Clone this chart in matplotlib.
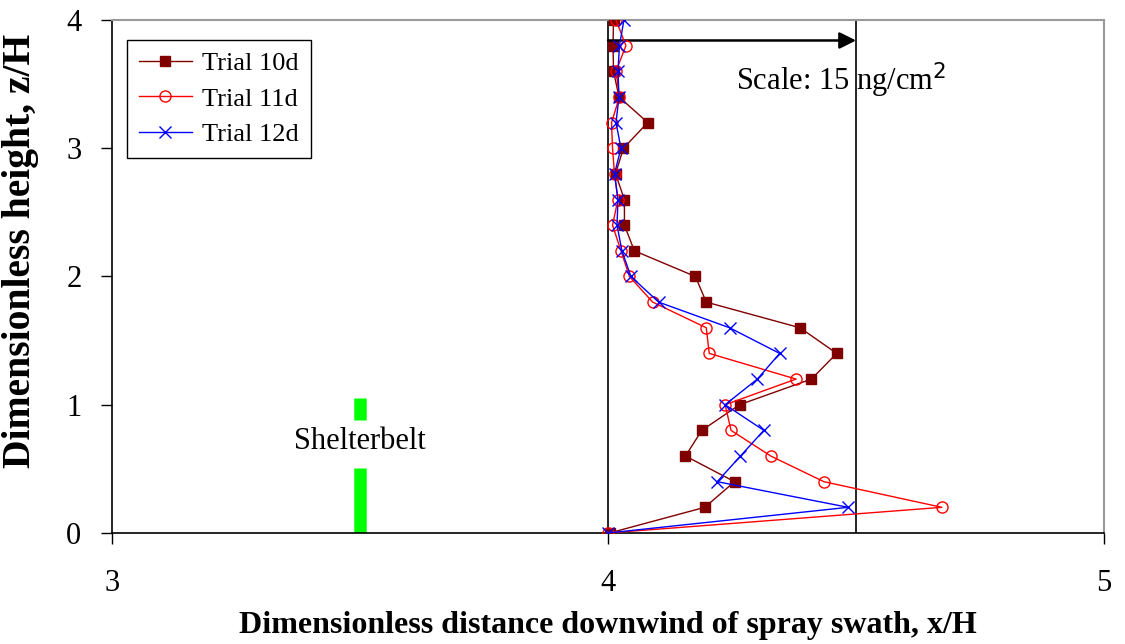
import matplotlib.pyplot as plt

plt.rcParams['font.family'] = ['Liberation Serif', 'DejaVu Serif']

# data
heights = [0.0, 0.2, 0.4, 0.6, 0.8, 1.0, 1.2, 1.4, 1.6, 1.8, 2.0,
           2.2, 2.4, 2.6, 2.8, 3.0, 3.2, 3.4, 3.6, 3.8, 4.0]
trial_10d = [4.003, 4.195, 4.255, 4.156, 4.189, 4.265, 4.41, 4.461, 4.387, 4.198, 4.176,
             4.053, 4.033, 4.033, 4.015, 4.031, 4.08, 4.022, 4.011, 4.010, 4.011]
trial_11d = [4.0, 4.673, 4.435, 4.328, 4.248, 4.236, 4.379, 4.204, 4.198, 4.09, 4.043,
             4.026, 4.009, 4.02, 4.013, 4.009, 4.007, 4.023, 4.016, 4.036, 4.016]
trial_12d = [4.0, 4.484, 4.22, 4.267, 4.314, 4.236, 4.301, 4.346, 4.245, 4.102, 4.046,
             4.028, 4.018, 4.02, 4.013, 4.026, 4.016, 4.022, 4.02, 4.023, 4.032]

baseline_x = 4.0
scale_x = 4.5
arrow_y = 3.84
shelterbelt_x = 3.5
shelterbelt_segments = [(0.0, 0.51), (0.88, 1.05)]

# plot
fig = plt.figure(figsize=(11.25, 6.44), dpi=100)
ax = fig.add_axes([0.0996, 0.1724, 0.8818, 0.7966])

ax.axvline(baseline_x, color='black', lw=1.2, zorder=1)
ax.axvline(scale_x, color='black', lw=1.2, zorder=1)

for lo, hi in shelterbelt_segments:
    ax.vlines(shelterbelt_x, lo, hi, color='#00ff00', lw=9, zorder=2)
ax.text(shelterbelt_x, 0.71, 'Shelterbelt', ha='center', va='center', fontsize=22)

ax.plot(trial_10d, heights, color='#800000', lw=1.0, marker='s', markersize=7,
        label='Trial 10d', zorder=3)
ax.plot(trial_11d, heights, color='red', lw=1.0, marker='o', markersize=8,
        markerfacecolor='none', markeredgewidth=1.0, label='Trial 11d', zorder=4)
ax.plot(trial_12d, heights, color='blue', lw=1.0, marker='x', markersize=8,
        markeredgewidth=1.0, label='Trial 12d', zorder=5)

ax.annotate('', xy=(scale_x, arrow_y), xytext=(baseline_x, arrow_y),
            arrowprops=dict(arrowstyle='-|>', color='black', lw=1.8,
                            mutation_scale=25, shrinkA=0, shrinkB=0))
ax.text(4.258, 3.53, 'Scale: 15 ng/cm$^2$', ha='left', va='center', fontsize=22)

ax.set(xlim=(3, 5), ylim=(0, 4), xticks=[3, 4, 5], yticks=[0, 1, 2, 3, 4])
ax.tick_params(direction='out', length=8, width=1.0, labelsize=22)
ax.tick_params(axis='x', pad=18)
ax.tick_params(axis='y', pad=14)

for side in ['top', 'right']:
    ax.spines[side].set_color('#999999')
    ax.spines[side].set_linewidth(1.5)
for side in ['left', 'bottom']:
    ax.spines[side].set_linewidth(1.2)

ax.set_xlabel('Dimensionless distance downwind of spray swath, x/H',
              fontsize=23, fontweight='bold')
ax.xaxis.set_label_coords(0.5, -0.152)
ax.set_ylabel('Dimensionless height, z/H', fontsize=28.5, fontweight='bold')
ax.yaxis.set_label_coords(-0.074, 0.55)

leg = ax.legend(loc='upper left', bbox_to_anchor=(0.015, 0.961), borderaxespad=0,
                fontsize=19, frameon=True, fancybox=False, edgecolor='black',
                framealpha=1, handlelength=2.0, handletextpad=0.4,
                borderpad=0.45, labelspacing=0.45)
leg.get_frame().set_linewidth(1.0)

fig.savefig('out.png', dpi=100)
